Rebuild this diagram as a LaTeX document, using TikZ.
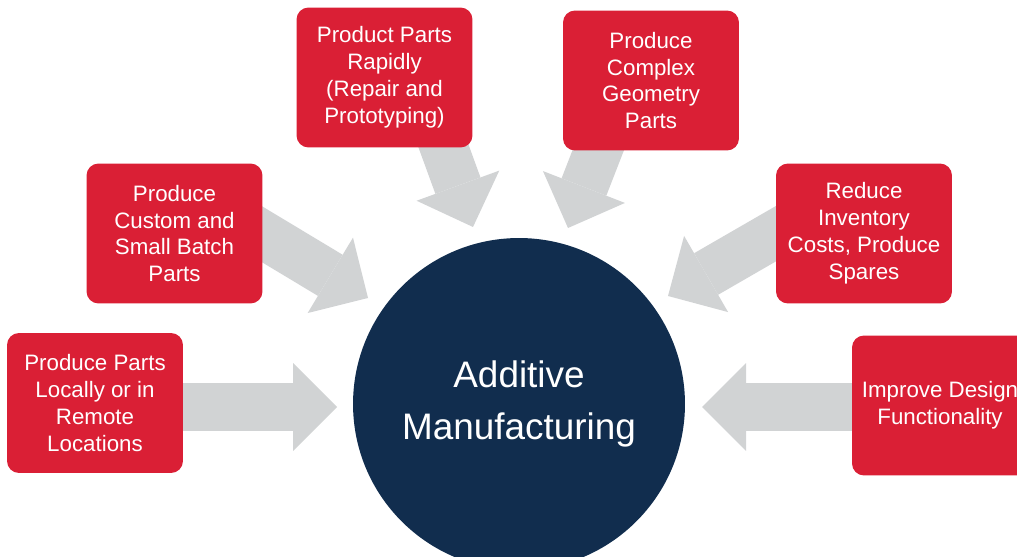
\documentclass[tikz,border=0pt]{standalone}
\usepackage{fontspec}
\setmainfont{Liberation Sans}
\usetikzlibrary{arrows.meta}
\definecolor{amred}{HTML}{DA1F35}
\definecolor{amnavy}{HTML}{112D4E}
\definecolor{amgray}{HTML}{D1D3D4}

\begin{document}
\begin{tikzpicture}[x=0.02cm, y=-0.02cm,
	bstyle/.style={rectangle, rounded corners=0.24cm, fill=amred, text=white,
	minimum width=3.52cm, minimum height=2.8cm, align=center,
	font=\fontsize{12.7}{15.3}\selectfont},
	cstyle/.style={circle, fill=amnavy, text=white, minimum size=6.64cm,
	align=center, font=\fontsize{21}{30}\selectfont},
	bigarrow/.style={draw=amgray, line width=0.96cm,
	-{Triangle[length=0.88cm, width=1.76cm, line width=0pt]}}
	]
	\useasboundingbox (0,0) rectangle (1017,557);
	\clip (0,0) rectangle (1017,557);
	
	% arrow ends
	\coordinate (s1) at (150,407);
	\coordinate (t1) at (337,407);
	\coordinate (s2) at (230,215);
	\coordinate (t2) at (368,298);
	\coordinate (s3) at (434,120);
	\coordinate (t3) at (473,227);
	\coordinate (s4) at (610,120);
	\coordinate (t4) at (568,228);
	\coordinate (s5) at (810,214);
	\coordinate (t5) at (668,296);
	\coordinate (s6) at (890,407);
	\coordinate (t6) at (702,407);
	
	\draw[bigarrow] (s1) -- (t1);
	\draw[bigarrow] (s2) -- (t2);
	\draw[bigarrow] (s3) -- (t3);
	\draw[bigarrow] (s4) -- (t4);
	\draw[bigarrow] (s5) -- (t5);
	\draw[bigarrow] (s6) -- (t6);
	
	\node[cstyle] (am) at (519,404) {Additive\\Manufacturing};
	
	\node[bstyle] (b1) at (95,403) {Produce Parts\\Locally or in\\Remote\\Locations};
	\node[bstyle] (b2) at (174.5,233.5) {Produce\\Custom and\\Small Batch\\Parts};
	\node[bstyle] (b3) at (384.5,77.5) {Product Parts\\Rapidly\\(Repair and\\Prototyping)};
	\node[bstyle] (b4) at (651,80.5) {Produce\\Complex\\Geometry\\Parts};
	\node[bstyle] (b5) at (864,233.5) {Reduce\\Inventory\\Costs, Produce\\Spares};
	\node[bstyle] (b6) at (940,405.5) {Improve Design\\Functionality};
\end{tikzpicture}
\end{document}
